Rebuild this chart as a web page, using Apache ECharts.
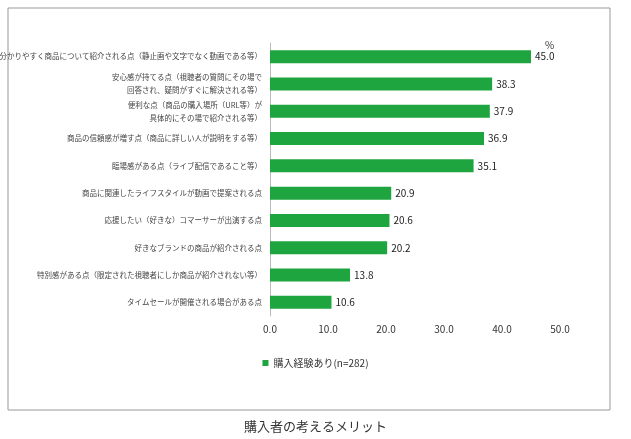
<!DOCTYPE html>
<html lang="ja">
<head>
<meta charset="UTF-8">
<title>購入者の考えるメリット</title>
<style>html,body{margin:0;background:#fff}#main{width:631px;height:439px}</style>
</head>
<body>
<div id="main"></div>
<script src="https://cdn.jsdelivr.net/npm/echarts@6/dist/echarts.min.js"></script>
<script>
// 上から順に
var categories = [
  '分かりやすく商品について紹介される点（静止画や文字でなく動画である等）',
  '安心感が持てる点（視聴者の質問にその場で\n回答され、疑問がすぐに解決される等）',
  '便利な点（商品の購入場所（URL等）が\n具体的にその場で紹介される等）',
  '商品の信頼感が増す点（商品に詳しい人が説明をする等）',
  '臨場感がある点（ライブ配信であること等）',
  '商品に関連したライフスタイルが動画で提案される点',
  '応援したい（好きな）コマーサーが出演する点',
  '好きなブランドの商品が紹介される点',
  '特別感がある点（限定された視聴者にしか商品が紹介されない等）',
  'タイムセールが開催される場合がある点'
];
var values = [45.0, 38.3, 37.9, 36.9, 35.1, 20.9, 20.6, 20.2, 13.8, 10.6];
var seriesName = '購入経験あり(n=282)';

var chart = echarts.init(document.getElementById('main'));
var font = '"Noto Sans CJK JP", sans-serif';
chart.setOption({
  animation: false,
  textStyle: { fontFamily: font },
  graphic: [
    { type: 'rect', shape: { x: 8, y: 8, width: 602, height: 402 }, style: { fill: 'none', stroke: '#999', lineWidth: 1 } },
    { type: 'text', left: 545, top: 40, style: { text: '%', fontSize: 10, fill: '#333', fontFamily: font } },
    { type: 'text', left: 'center', top: 420, style: { text: '購入者の考えるメリット', fontSize: 13, fill: '#333', fontFamily: font } }
  ],
  legend: {
    data: [seriesName], bottom: 66, left: 'center', icon: 'rect', itemWidth: 6, itemHeight: 6,
    textStyle: { fontSize: 10, color: '#333' }
  },
  grid: { left: 270, right: 71, top: 43, bottom: 123, containLabel: false, outerBoundsMode: 'none' },
  xAxis: {
    type: 'value', min: 0, max: 50, interval: 10,
    axisLabel: { formatter: function (v) { return v.toFixed(1); }, fontSize: 10, color: '#333' },
    splitLine: { show: false }, axisLine: { show: false }, axisTick: { show: false }
  },
  yAxis: {
    type: 'category', inverse: true, data: categories,
    axisLine: { show: true, lineStyle: { color: '#bbb' } }, axisTick: { show: false },
    axisLabel: { fontSize: 7.5, color: '#444', lineHeight: 13, align: 'right' }
  },
  series: [{
    name: seriesName, type: 'bar', data: values, barWidth: 13,
    itemStyle: { color: '#1fa53f' },
    label: { show: true, position: 'right', distance: 4, fontSize: 10, color: '#222',
      formatter: function (p) { return p.value.toFixed(1); } }
  }]
});
</script>
</body>
</html>
